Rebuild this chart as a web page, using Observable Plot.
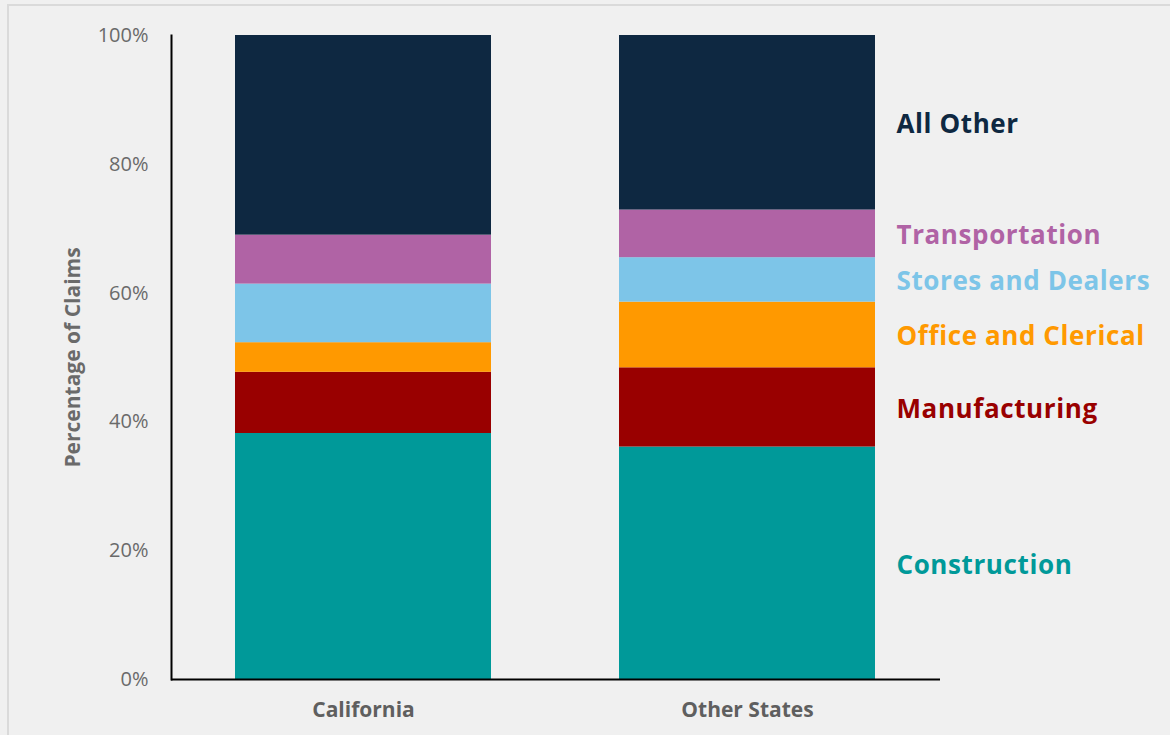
<!DOCTYPE html>
<html><head><meta charset="utf-8">
<script src="https://cdn.jsdelivr.net/npm/d3@7"></script>
<script src="https://cdn.jsdelivr.net/npm/@observablehq/plot@0.6"></script>
<style>
html,body{margin:0;padding:0;background:#f0f0f0;width:1170px;height:735px;overflow:hidden}
#border{position:absolute;left:7px;top:4px;right:0;bottom:0;border-top:2px solid #dadada;border-left:2px solid #dadada;}
#chart{position:absolute;left:0;top:0}
#chart .rlabels text{letter-spacing:0.6px}
</style></head><body><div id="border"></div><div id="chart"></div>
<script>
const states = ["California", "Other States"];
const categories = ["Construction", "Manufacturing", "Office and Clerical", "Stores and Dealers", "Transportation", "All Other"];
const colors = ["#009999", "#990000", "#ff9900", "#7dc5e8", "#b063a5", "#0e2841"];
const california = [38.2, 9.5, 4.6, 9.1, 7.6, 31.0];
const otherStates = [36.1, 12.3, 10.2, 6.9, 7.4, 27.1];
const yTicks = [0, 20, 40, 60, 80, 100];

const data = [];
categories.forEach((c, i) => data.push({state: states[0], cat: c, value: california[i]}));
categories.forEach((c, i) => data.push({state: states[1], cat: c, value: otherStates[i]}));

const chart = Plot.plot({
  width: 1170,
  height: 735,
  marginTop: 35,
  marginBottom: 56,
  marginLeft: 171,
  marginRight: 230,
  style: {background: "transparent", fontFamily: "'Open Sans', sans-serif"},
  x: {domain: states, paddingInner: 0.3325, paddingOuter: 0.166, label: null},
  y: {domain: [0, 100], label: null},
  color: {domain: categories, range: colors},
  marks: [
    Plot.barY(data, Plot.stackY({x: "state", y: "value", fill: "cat", z: "cat", order: categories})),
    Plot.text(data.filter(d => d.state === states[1]), Plot.stackY({
      x: "state", y: "value", z: "cat", order: categories, text: "cat", fill: "cat",
      textAnchor: "start", dx: 149, dy: 2, fontSize: 26, fontWeight: "bold", className: "rlabels"
    })),
    Plot.axisY({ticks: yTicks, tickFormat: d => d + "%", tickSize: 0, tickPadding: 23,
      fontSize: 20, color: "#6a6a6a", label: null}),
    Plot.text(["Percentage of Claims"], {frameAnchor: "left", dx: -98, rotate: -90, textAnchor: "middle",
      fontSize: 21, fontWeight: "bold", fill: "#6a6a6a"}),
    Plot.axisX({tickSize: 0, tickPadding: 23, fontSize: 21, fontWeight: "bold", color: "#5f5f5f", label: null}),
    Plot.ruleY([0], {stroke: "#000", strokeWidth: 2}),
    Plot.frame({anchor: "left", stroke: "#000", strokeWidth: 2})
  ]
});
document.getElementById("chart").appendChild(chart);
</script>
</body></html>
